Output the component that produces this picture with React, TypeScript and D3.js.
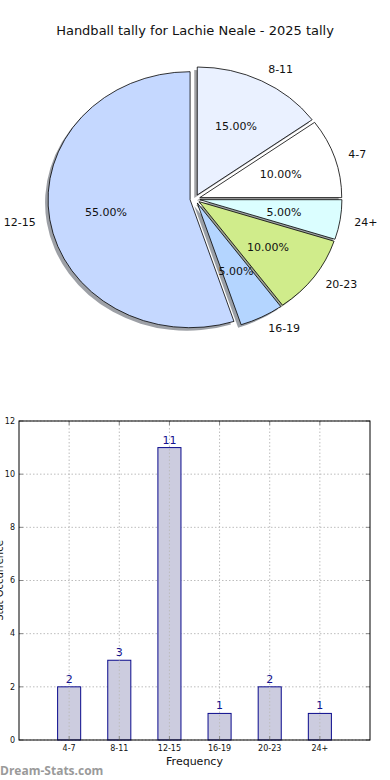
import React from 'react';
import * as d3 from 'd3';

// pie slices (matplotlib order, counter-clockwise from 3 o'clock)
const sliceLabels = ['4-7', '8-11', '12-15', '16-19', '20-23', '24+'];
const slicePcts = [10, 15, 55, 5, 10, 5];
const sliceColors = ['#ffffff', '#eaf1ff', '#c5d8ff', '#b4d5ff', '#d0ec8b', '#dbfeff'];

// bar chart
const barCats = ['4-7', '8-11', '12-15', '16-19', '20-23', '24+'];
const barCounts = [2, 3, 11, 1, 2, 1];
const yTicks = [0, 2, 4, 6, 8, 10, 12];

const W = 390;
const H = 780;
const FONT = '"DejaVu Sans", sans-serif';

function darken(c: string) {
  const col = d3.rgb(c);
  return d3.rgb(col.r * 0.3, col.g * 0.3, col.b * 0.3).toString();
}

function Pie() {
  const cx = 195, cy = 199, rx = 142, ry = 128, explode = 0.035;
  const pie = d3.pie<number>().sort(null).value(d => d)
    .startAngle(Math.PI / 2).endAngle(Math.PI / 2 - 2 * Math.PI);
  const arcs = pie(slicePcts);
  const arc = d3.arc<d3.PieArcDatum<number>>().innerRadius(0).outerRadius(1);

  return (
    <g>
      {arcs.map((a, i) => {
        const mid = (a.startAngle + a.endAngle) / 2;
        const ux = Math.sin(mid), uy = -Math.cos(mid);
        const ox = cx + ux * explode * rx, oy = cy + uy * explode * ry;
        return (
          <g key={'s' + i}>
            <path d={arc(a) || ''} transform={`translate(${ox - 3},${oy + 3}) scale(${rx},${ry})`}
              fill={darken(sliceColors[i])} opacity={0.5} />
          </g>
        );
      })}
      {arcs.map((a, i) => {
        const mid = (a.startAngle + a.endAngle) / 2;
        const ux = Math.sin(mid), uy = -Math.cos(mid);
        const ox = cx + ux * explode * rx, oy = cy + uy * explode * ry;
        const lx = ox + ux * 1.1 * rx, ly = oy + uy * 1.1 * ry;
        const px = ox + ux * 0.6 * rx, py = oy + uy * 0.6 * ry;
        return (
          <g key={'w' + i}>
            <path d={arc(a) || ''} transform={`translate(${ox},${oy}) scale(${rx},${ry})`}
              fill={sliceColors[i]} stroke="#000" strokeWidth={0.8} vectorEffect="non-scaling-stroke" />
            <text x={lx} y={ly} dy="0.35em" textAnchor={ux > 0 ? 'start' : 'end'}
              fontSize={11} fontFamily={FONT} fill="#111">{sliceLabels[i]}</text>
            <text x={px} y={py} dy="0.35em" textAnchor="middle"
              fontSize={11} fontFamily={FONT} fill="#111">{slicePcts[i].toFixed(2)}%</text>
          </g>
        );
      })}
    </g>
  );
}

function Bars() {
  const left = 19, right = 370, top = 421, bottom = 740;
  const x = d3.scaleLinear().domain([-1, barCats.length]).range([left, right]);
  const y = d3.scaleLinear().domain([0, 12]).range([bottom, top]);
  const bw = x(0.46) - x(0);
  const grid = '#bdbdbd';
  return (
    <g fontFamily={FONT}>
      {yTicks.map(t => (
        <g key={'y' + t}>
          <line x1={left} x2={right} y1={y(t)} y2={y(t)} stroke={grid} strokeDasharray="1.5,2" />
          <line x1={left} x2={left + 4} y1={y(t)} y2={y(t)} stroke="#888" />
          <line x1={right - 4} x2={right} y1={y(t)} y2={y(t)} stroke="#888" />
          <text x={left - 4} y={y(t)} dy="0.35em" textAnchor="end" fontSize={8} fill="#111">{t}</text>
        </g>
      ))}
      {barCats.map((c, i) => (
        <g key={'b' + c}>
          <rect x={x(i) - bw / 2} y={y(barCounts[i])} width={bw} height={y(0) - y(barCounts[i])}
            fill="#ccccdf" stroke="#0a0a8c" strokeWidth={1} />
          <line x1={x(i)} x2={x(i)} y1={top} y2={bottom} stroke={grid} strokeDasharray="1.5,2" />
          <line x1={x(i)} x2={x(i)} y1={top} y2={top + 4} stroke="#888" />
          <line x1={x(i)} x2={x(i)} y1={bottom - 4} y2={bottom} stroke="#888" />
          <text x={x(i)} y={bottom + 11} textAnchor="middle" fontSize={8} fill="#111">{c}</text>
          <text x={x(i)} y={y(barCounts[i]) - 4} textAnchor="middle" fontSize={11} fill="#12128f">{barCounts[i]}</text>
        </g>
      ))}
      <rect x={left} y={top} width={right - left} height={bottom - top} fill="none" stroke="#000" strokeWidth={1} />
      <text x={(left + right) / 2} y={765} textAnchor="middle" fontSize={11} fill="#111">Frequency</text>
      <text transform={`translate(3,${(top + bottom) / 2}) rotate(-90)`} textAnchor="middle"
        fontSize={10} fill="#111">Stat Occurrence</text>
    </g>
  );
}

export default function App() {
  return (
    <div style={{ position: 'absolute', left: 0, top: 0 }}>
      <svg width={W} height={H} style={{ display: 'block', background: '#fff' }}>
        <text x={195} y={35} textAnchor="middle" fontSize={13} fontFamily={FONT} fill="#111">
          Handball tally for Lachie Neale - 2025 tally
        </text>
        <Pie />
        <Bars />
        <text x={0} y={775} fontSize={12} fontWeight="bold" fontFamily='"Open Sans", sans-serif' fill="#9a9a9a">
          Dream-Stats.com
        </text>
      </svg>
    </div>
  );
}
